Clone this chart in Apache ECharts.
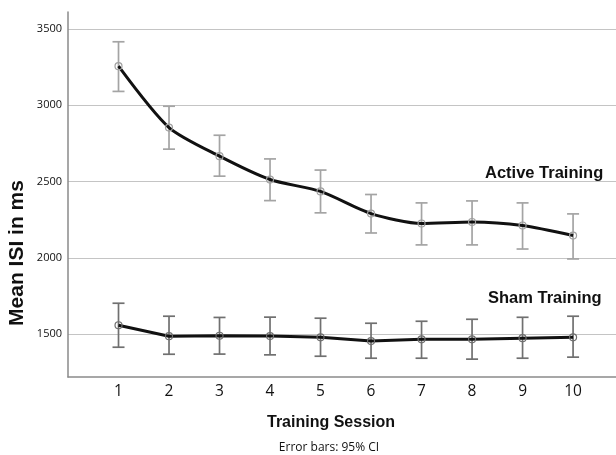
<!DOCTYPE html>
<html>
<head>
<meta charset="utf-8">
<script src="https://cdn.jsdelivr.net/npm/echarts@6/dist/echarts.min.js"></script>
<style>html,body{margin:0;padding:0;background:#fff}#c{width:616px;height:455px}</style>
</head>
<body>
<div id="c"></div>
<script>
var sessions = [1, 2, 3, 4, 5, 6, 7, 8, 9, 10];
var activeMean = [3255, 2853, 2666, 2513, 2435, 2290, 2225, 2235, 2212, 2146];
var activeLow  = [3090, 2712, 2535, 2375, 2295, 2163, 2085, 2085, 2058, 1993];
var activeHigh = [3415, 2993, 2803, 2648, 2575, 2415, 2360, 2373, 2360, 2288];
var shamMean = [1559, 1487, 1490, 1488, 1480, 1455, 1467, 1467, 1474, 1480];
var shamLow  = [1415, 1369, 1370, 1365, 1356, 1343, 1343, 1337, 1343, 1350];
var shamHigh = [1703, 1618, 1610, 1612, 1605, 1572, 1585, 1598, 1611, 1618];
var yTicks = [1500, 2000, 2500, 3000, 3500];

function pairs(xs, ys) { return xs.map(function (x, i) { return [x, ys[i]]; }); }
function errData(xs, lo, hi) { return xs.map(function (x, i) { return [x, lo[i], hi[i]]; }); }

function errRender(color) {
  return function (params, api) {
    var x = api.value(0);
    var p1 = api.coord([x, api.value(1)]);
    var p2 = api.coord([x, api.value(2)]);
    var w = 6;
    var st = { stroke: color, lineWidth: 1.7 };
    return {
      type: 'group',
      children: [
        { type: 'line', shape: { x1: p1[0], y1: p1[1], x2: p2[0], y2: p2[1] }, style: st },
        { type: 'line', shape: { x1: p1[0] - w, y1: p1[1], x2: p1[0] + w, y2: p1[1] }, style: st },
        { type: 'line', shape: { x1: p2[0] - w, y1: p2[1], x2: p2[0] + w, y2: p2[1] }, style: st }
      ]
    };
  };
}

var chart = echarts.init(document.getElementById('c'), null, { renderer: 'canvas' });
chart.setOption({
  animation: false,
  backgroundColor: '#ffffff',
  grid: { left: 68, right: 0, top: 12, bottom: 78, containLabel: false },
  xAxis: {
    type: 'value', min: 0, max: 10.85,
    axisLine: { show: true, lineStyle: { color: '#8a8a8a', width: 1.5 } },
    axisTick: { show: false, customValues: sessions },
    axisLabel: { customValues: sessions, fontFamily: 'Open Sans', fontSize: 15.5, color: '#111', margin: 7 },
    splitLine: { show: false }
  },
  yAxis: {
    type: 'value', min: 1220, max: 3610,
    axisLine: { show: true, lineStyle: { color: '#8a8a8a', width: 1.5 } },
    axisTick: { show: false, customValues: yTicks },
    axisLabel: { customValues: yTicks, formatter: function (v) { return String(v); }, fontFamily: 'Open Sans', fontSize: 11, color: '#111', margin: 6 },
    splitLine: { show: true, lineStyle: { color: '#c4c4c4', width: 1.2 } }
  },
  graphic: [
    { type: 'text', x: 485, y: 173, style: { text: 'Active Training', font: 'bold 16.5px "Liberation Sans", Arial, sans-serif', fill: '#111', verticalAlign: 'middle' } },
    { type: 'text', x: 488, y: 298, style: { text: 'Sham Training', font: 'bold 16.5px "Liberation Sans", Arial, sans-serif', fill: '#111', verticalAlign: 'middle' } },
    { type: 'text', x: 331, y: 423, style: { text: 'Training Session', font: 'bold 16px "Liberation Sans", Arial, sans-serif', fill: '#111', align: 'center', verticalAlign: 'middle' } },
    { type: 'text', x: 329, y: 448, style: { text: 'Error bars: 95% CI', font: '12px "Open Sans", sans-serif', fill: '#111', align: 'center', verticalAlign: 'middle' } },
    { type: 'text', x: 17, y: 253, rotation: Math.PI / 2, style: { text: 'Mean ISI in ms', font: 'bold 21px "Liberation Sans", Arial, sans-serif', fill: '#111', align: 'center', verticalAlign: 'middle' } }
  ],
  series: [
    { type: 'custom', data: errData(sessions, activeLow, activeHigh), renderItem: errRender('#a4a4a4'), z: 2, silent: true, encode: { x: 0, y: [1, 2] } },
    { type: 'custom', data: errData(sessions, shamLow, shamHigh), renderItem: errRender('#707070'), z: 2, silent: true, encode: { x: 0, y: [1, 2] } },
    { type: 'line', data: pairs(sessions, activeMean), smooth: 0.25, symbol: 'circle', symbolSize: 7,
      lineStyle: { color: '#111', width: 3 }, itemStyle: { color: 'rgba(255,255,255,0)', borderColor: '#a0a0a0', borderWidth: 1.2 }, z: 3 },
    { type: 'line', data: pairs(sessions, shamMean), smooth: false, symbol: 'circle', symbolSize: 7,
      lineStyle: { color: '#111', width: 3 }, itemStyle: { color: 'rgba(255,255,255,0)', borderColor: '#6e6e6e', borderWidth: 1.2 }, z: 3 }
  ]
});
</script>
</body>
</html>
